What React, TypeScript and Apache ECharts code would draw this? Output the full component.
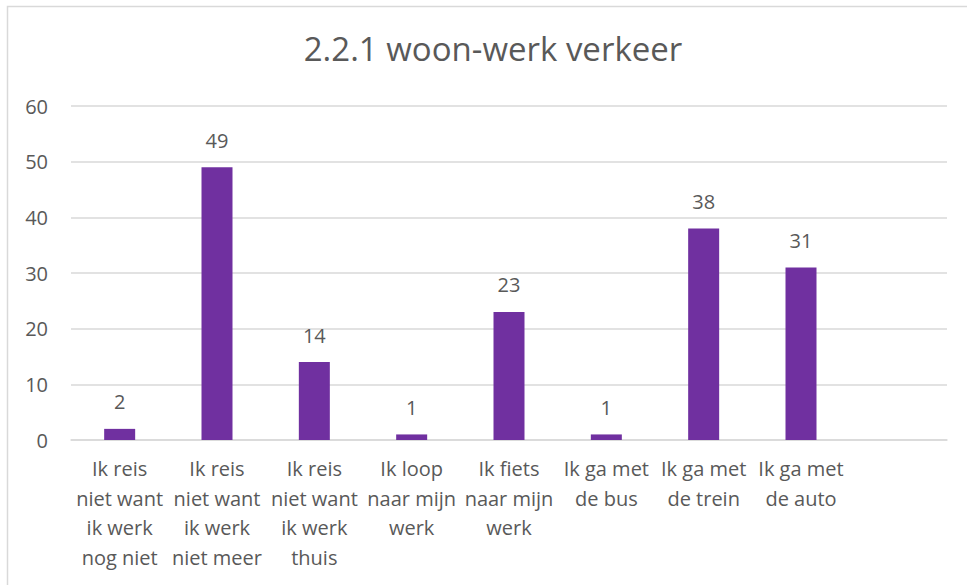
import React, { useEffect, useRef } from "react";
import * as echarts from "echarts";

const categories = [
  "Ik reis\nniet want\nik werk\nnog niet",
  "Ik reis\nniet want\nik werk\nniet meer",
  "Ik reis\nniet want\nik werk\nthuis",
  "Ik loop\nnaar mijn\nwerk",
  "Ik fiets\nnaar mijn\nwerk",
  "Ik ga met\nde bus",
  "Ik ga met\nde trein",
  "Ik ga met\nde auto",
  "",
];
const values: (number | null)[] = [2, 49, 14, 1, 23, 1, 38, 31, null];
const titleText = "2.2.1 woon-werk verkeer";

const FONT = "'Open Sans', 'Noto Sans', sans-serif";
const TXT = "#595959";

export default function App() {
  const ref = useRef<HTMLDivElement>(null);
  useEffect(() => {
    if (!ref.current) return;
    const chart = echarts.init(ref.current, null, { renderer: "svg" });
    chart.setOption({
      animation: false,
      backgroundColor: "#ffffff",
      textStyle: { fontFamily: FONT },
      title: {
        text: titleText,
        left: 488,
        textAlign: "center",
        top: 27,
        textStyle: { fontFamily: FONT, fontSize: 33, fontWeight: "normal", color: TXT },
      },
      graphic: [
        {
          type: "rect",
          shape: { x: 7.5, y: 6.5, width: 1000, height: 700 },
          style: { fill: "none", stroke: "#d9d9d9", lineWidth: 1.5 },
          silent: true,
        },
      ],
      grid: { left: 71, right: 20, top: 106, bottom: 145, containLabel: false },
      xAxis: {
        type: "category",
        data: categories,
        axisLine: { lineStyle: { color: "#d9d9d9", width: 1.5 } },
        axisTick: { show: false },
        axisLabel: {
          interval: 0,
          color: TXT,
          fontFamily: FONT,
          fontSize: 20,
          lineHeight: 29.5,
          margin: 14,
        },
      },
      yAxis: {
        type: "value",
        min: 0,
        max: 60,
        interval: 10,
        axisLine: { show: false },
        axisTick: { show: false },
        splitLine: { lineStyle: { color: "#d9d9d9", width: 1.5 } },
        axisLabel: { color: TXT, fontFamily: FONT, fontSize: 20, margin: 23 },
      },
      series: [
        {
          type: "bar",
          data: values,
          barWidth: 31,
          itemStyle: { color: "#7030A0" },
          label: {
            show: true,
            position: "top",
            distance: 17,
            color: TXT,
            fontFamily: FONT,
            fontSize: 20,
          },
        },
      ],
    });
    return () => chart.dispose();
  }, []);
  return (
    <div
      ref={ref}
      style={{ position: "absolute", left: 0, top: 0, width: 967, height: 585 }}
    />
  );
}
